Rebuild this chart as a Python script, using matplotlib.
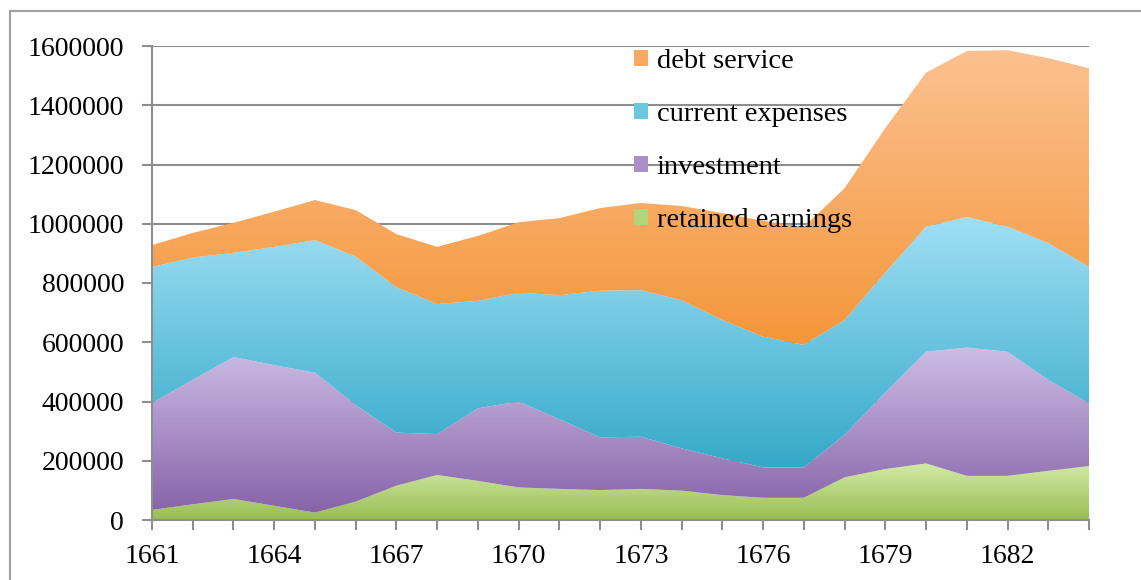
import numpy as np
import matplotlib
matplotlib.use('Agg')
import matplotlib.pyplot as plt
from matplotlib.colors import LinearSegmentedColormap
from matplotlib.patches import Polygon, Patch
from matplotlib.lines import Line2D

plt.rcParams['font.family'] = ['Liberation Serif', 'DejaVu Serif']

# datos (valores por serie, no acumulados)
years = np.arange(1661, 1685)
retained_earnings = [34000, 53000, 71000, 48000, 25000, 62000, 116000, 152000, 132000, 110000,
                     105000, 101000, 105000, 99000, 84000, 75000, 75000, 144000, 172000, 191000,
                     149000, 149000, 166000, 182000]
investment = [361000, 420000, 479000, 475000, 472000, 326000, 179000, 138000, 245000, 290000,
              235000, 178000, 176000, 143000, 124000, 103000, 103000, 143000, 258000, 377000,
              433000, 419000, 307000, 212000]
current_expenses = [459000, 413000, 352000, 399000, 448000, 501000, 491000, 439000, 363000, 367000,
                    419000, 495000, 495000, 500000, 467000, 441000, 413000, 388000, 405000, 422000,
                    441000, 422000, 462000, 461000]
debt_service = [74000, 83000, 101000, 119000, 135000, 157000, 179000, 193000, 219000, 238000,
                260000, 279000, 294000, 318000, 361000, 391000, 398000, 445000, 488000, 520000,
                560000, 596000, 624000, 670000]

labels = ['retained earnings', 'investment', 'current expenses', 'debt service']
# (color arriba, color abajo) del degradado
colores = [('#d3eaa6', '#98bd52'),
           ('#cdbde6', '#8763a8'),
           ('#a0dff5', '#35a9c8'),
           ('#fcc190', '#f4963a')]
# color de los cuadros de la leyenda
colores_leyenda = ['#b4d47c', '#a990c8', '#6cc6e0', '#f8aa62']

fig = plt.figure(figsize=(11.41, 5.80), dpi=100)
ax = fig.add_axes([152/1141, 60/580, 937/1141, 474/580])

gris = '#8e8e8e'

# relleno con degradado vertical, recortado al poligono de cada serie
def area_degradado(ax, x, abajo, arriba, c_arriba, c_abajo, z):
    verts = np.vstack([np.column_stack([x, arriba]),
                       np.column_stack([x[::-1], abajo[::-1]])])
    poly = Polygon(verts, closed=True, facecolor='none', edgecolor='none')
    ax.add_patch(poly)
    cmap = LinearSegmentedColormap.from_list('g', [c_abajo, c_arriba])
    grad = np.linspace(0, 1, 256).reshape(-1, 1)
    im = ax.imshow(grad, cmap=cmap, aspect='auto', origin='lower',
                   extent=[x[0], x[-1], abajo.min(), arriba.max()], zorder=z,
                   interpolation='bilinear')
    im.set_clip_path(poly)

series = [retained_earnings, investment, current_expenses, debt_service]
base = np.zeros(len(years))
for i, s in enumerate(series):
    top = base + np.array(s, dtype=float)
    area_degradado(ax, years, base, top, colores[i][0], colores[i][1], 2 + i)
    base = top

ax.set_xlim(1661, 1684)
ax.set_ylim(0, 1600000)

yt = np.arange(0, 1600001, 200000)
ax.set_yticks(yt)
ax.set_yticklabels([str(v) for v in yt])
ax.set_xticks(years)
ax.set_xticklabels([str(y) if (y - 1661) % 3 == 0 else '' for y in years])

ax.grid(axis='y', color=gris, linewidth=1.5, zorder=0)
ax.set_axisbelow(True)
for s in ['top', 'right']:
    ax.spines[s].set_visible(False)
for s in ['left', 'bottom']:
    ax.spines[s].set_color(gris)
    ax.spines[s].set_linewidth(1.5)
    ax.spines[s].set_zorder(10)
ax.tick_params(axis='both', colors=gris, width=1.5, length=7, labelcolor='black', labelsize=20)
ax.tick_params(axis='y', pad=13)
ax.tick_params(axis='x', pad=10)

handles = [Patch(facecolor=colores_leyenda[i], edgecolor='none') for i in [3, 2, 1, 0]]
leg = ax.legend(handles, [labels[i] for i in [3, 2, 1, 0]], loc='upper left',
                bbox_to_anchor=(0.502, 1.018), frameon=False, fontsize=20.5,
                handlelength=0.5, handleheight=0.5, handletextpad=0.3,
                labelspacing=0.99, borderaxespad=0)
leg.set_zorder(20)

# marco gris alrededor
fig.add_artist(Line2D([10/1141, 1.0], [1 - 11/580, 1 - 11/580], color='#a0a0a0', linewidth=1.5))
fig.add_artist(Line2D([10/1141, 10/1141], [0.0, 1 - 11/580], color='#a0a0a0', linewidth=1.5))

fig.savefig('out.png', dpi=100)
